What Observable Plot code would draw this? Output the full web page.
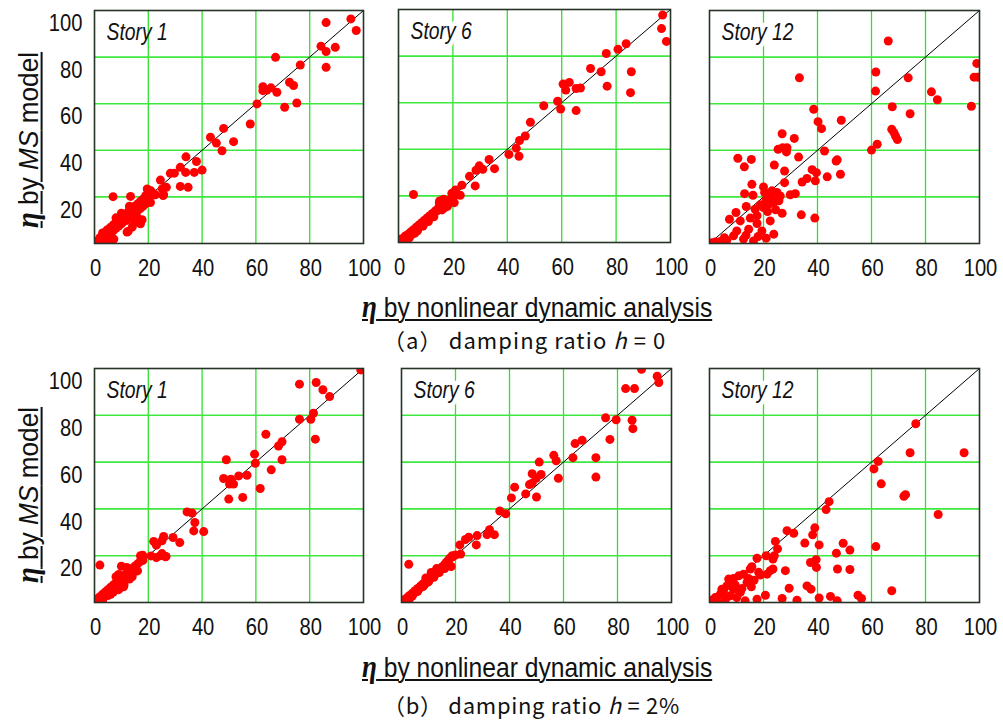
<!DOCTYPE html>
<html><head><meta charset="utf-8">
<script src="https://cdn.jsdelivr.net/npm/d3@7"></script>
<script src="https://cdn.jsdelivr.net/npm/@observablehq/plot@0.6"></script>
<style>
body{margin:0;background:#fff;}
#root{position:relative;width:1003px;height:720px;overflow:hidden;font-family:'Liberation Sans',Arial,sans-serif;color:#111;}
.t{position:absolute;white-space:nowrap;line-height:1;}
.xt{font-size:28px;text-decoration:underline;text-decoration-thickness:1.5px;text-underline-offset:2px;transform-origin:left top;}
.yt{font-size:28px;text-decoration:underline;text-decoration-thickness:1.5px;text-underline-offset:3px;}
.eta{font-family:'Liberation Serif','DejaVu Serif',serif;font-weight:bold;font-style:italic;font-size:1.1em;line-height:1;}
.cap{font-family:'Noto Sans CJK JP','Noto Sans',sans-serif;font-size:22px;}
</style>
</head><body><div id="root"></div>
<script>
// ---------- data ----------
const xTicks = [0, 20, 40, 60, 80, 100];
const yTicks = [20, 40, 60, 80, 100];
const gridTicks = [20, 40, 60, 80];
const diagonal = [0, 100];
const storyLabels = ["Story 1", "Story 6", "Story 12"];
const captions = ["（a） damping ratio ", "（b） damping ratio "];
const captionValues = ["= 0", "= 2%"];

// damping ratio h = 0, Story 1
const h0Story1 = [
[95.3,96.4],[86.1,94.8],[97.3,91.4],[84.2,84.7],[86.1,82.4],[89.5,84.2],[86.1,75.6],[76.5,76.6],[67.3,79.9],
[62.6,67.3],[62.6,65.6],[64.1,65.9],[65.6,66.8],[67.8,64.9],[72.5,69.2],[74.0,67.8],[70.7,58.5],[75.2,60.3],
[60.4,59.9],[57.9,51.3],[48.0,49.4],[43.1,45.6],[45.3,43.1],[47.4,39.8],[51.7,43.7],[34.0,37.2],[37.9,35.2],
[31.9,32.7],[33.9,30.5],[37.1,30.5],[40.0,31.5],[28.2,30.1],[29.7,30.2],[24.5,27.2],[31.9,24.5],[34.8,24.1],
[26.7,24.1],[25.7,20.9],[22.6,20.9],[19.6,23.4],[20.8,22.6],[20.8,17.6],[6.9,20.1],[13.4,20.2],[12.5,5.2],[7.2,1.9],
[1,1],[1.5,0.5],[2,2.5],[2.5,1.5],[3,3],[3,4.5],[3.5,2],[4,4],[4.5,5.5],[5,3.5],[5,6],[5.5,5],[6,7],[6,4.5],[6.5,6],
[7,8],[7,5.5],[7.5,7],[8,9],[8,6.5],[8.5,8],[9,10],[9,7.5],[9.5,9],[10,11],[10,8.5],[10.5,10],[11,12.5],[11,9.5],
[11.5,11],[12,13],[12,10],[12.5,12],[13,14.5],[13,11],[13.5,13],[14,15],[14,12],[14.5,14],[15,16],[15,13],[15.5,15],
[16,17],[16,14],[16.5,16],[17,18],[17,15],[17.5,17],[18,19],[18,16],[18.5,18],[19,20.5],[19,17],[20,21],[20,18.5],
[21,22.5],[22,21],[16,11],[15,9],[14,7],[6.5,2],[4,1],[10,13],[8,11],[13,16],[25.2,23.5],[22,21.3],[25.5,20.6],
[17.7,10.2],[17.1,8.5],[12.1,4.9],[6,2]
];

// damping ratio h = 0, Story 6
const h0Story6 = [
[97.1,97.6],[96.7,91.8],[98.5,86.3],[83.7,85.3],[80.7,82.9],[76.4,81.1],[70.6,74.7],[74.5,73.3],[85.6,73.3],
[76.7,67.1],[85.3,64.3],[60.5,68.0],[62.8,68.7],[61.5,65.4],[65.3,66.1],[66.9,66.3],[58.5,60.6],[59.6,57.3],
[65.3,56.6],[53.4,58.7],[48.5,51.6],[46.6,45.7],[44.5,43.8],[43.3,40.5],[44.3,37.0],[40.6,37.8],[33.3,35.6],
[35.3,31.7],[29.7,32.9],[31.0,31.4],[28.5,31.0],[26.1,28.4],[28.2,24.3],[23.3,24.6],[22.7,20.3],[20.9,22.5],
[19.6,21.1],[20.5,17.1],[16.6,18.6],[15.1,17.8],[5.5,20.6],
[0.5,0.5],[1,1.5],[1.5,0.8],[2,2],[2.5,2.8],[3,2.5],[3.5,3.5],[4,3.2],[4.5,4.5],[5,4.2],[5.5,5.5],[6,5.3],
[6.5,6.5],[7,6.2],[7.5,7.5],[8,7.3],[8.5,8.5],[9,8.2],[9.5,9.5],[10,9.5],[10.5,10.5],[11,10.2],[11.5,11.5],
[12,11.5],[12.5,12.5],[13,12.5],[13.5,13.5],[14,13.5],[14.5,14.5],[15,14.8],[16,15.5],[17,16.5],[18,17.5],
[3,1.5],[5,3.5],[7,5],[9,7],[11,9],[1,0.2],[2,0.5],[4,2],[6,4],[13,11],[16,14],[19,18.5],[20,19.5],[21,20.5],
[15,17],[16,18],[18,15.5],[17,15]
];

// damping ratio h = 0, Story 12
const h0Story12 = [
[66.2,86.9],[99.0,77.3],[98.0,71.4],[99.3,71.4],[33.3,71.1],[61.6,73.6],[73.6,71.1],[61.5,65.4],[82.2,65.1],
[84.4,61.7],[97.0,58.9],[67.7,58.7],[74.3,55.7],[67.5,49.0],[68.3,47.6],[68.9,46.1],[69.6,44.6],[62.1,42.6],
[60.0,40.1],[38.6,57.6],[40.2,52.3],[41.5,49.3],[48.8,52.9],[26.9,47.1],[31.4,45.1],[25.4,40.4],[27.1,41.1],
[28.7,41.1],[28.5,39.3],[33.0,37.1],[42.6,39.7],[10.5,36.6],[15.5,36.1],[12.9,32.9],[24.0,33.7],[27.8,31.1],
[38.0,31.7],[39.6,30.4],[46.9,35.4],[47.3,35.9],[48.5,29.7],[43.6,28.6],[39.2,26.9],[36.1,27.9],[34.3,26.4],
[15.7,25.4],[20.0,24.3],[27.8,26.1],[13.0,21.4],[16.1,20.7],[20.4,21.9],[23.1,22.6],[25.0,21.9],[26.2,20.4],
[29.9,20.9],[31.8,21.4],[21.0,18.7],[23.1,19.0],[25.7,18.3],[13.6,15.9],[16.9,14.7],[18.8,16.6],[21.5,13.7],
[22.5,9.7],[26.9,13.0],[34.0,12.3],[39.0,10.9],[9.8,13.3],[7.4,10.4],[15.1,10.9],[11.4,9.7],[17.6,8.6],[19.4,5.4],
[23.8,4.0],[21.0,2.3],[16.3,1.1],[12.6,1.9],[8.9,3.3],[6.4,1.4],[4.0,0.9],[2.1,0.6],[10.1,5.4],[14.5,6.1],
[17.6,11.9],[20.0,15.4],[21.9,16.9],[23.8,17.6],[22.5,19.7],[0.8,0.3],[5.5,2.5],[13.5,3.5],[18,3],[24.5,14.5]
];

// damping ratio h = 2%, Story 1
const h2Story1 = [
[99.0,99.4],[76.2,93.3],[82.4,94.0],[84.9,90.9],[87.4,88.0],[81.4,80.9],[80.4,78.3],[76.2,78.3],[82.1,69.8],
[63.7,71.9],[69.7,68.7],[68.4,66.9],[69.7,61.0],[65.7,56.7],[59.5,63.4],[59.8,59.5],[56.7,54.4],[53.6,54.1],
[50.7,52.7],[51.7,50.6],[50.2,50.6],[48.0,53.0],[49.0,61.0],[49.9,44.2],[55.1,44.9],[61.6,48.7],[34.4,38.7],
[36.3,38.2],[37.3,34.2],[36.9,30.6],[40.6,30.3],[31.7,25.6],[29.2,27.8],[25.7,28.2],[25.1,26.4],[22.0,26.1],
[23.0,24.5],[23.0,19.2],[21.0,19.9],[26.6,19.7],[25.1,20.9],[17.9,20.2],[2.0,16.0],
[0.5,0.5],[1,1.5],[1.5,1],[2,2.5],[2.5,1.5],[3,3.5],[3.5,2.5],[4,4.5],[4.5,3.5],[5,5.5],[5.5,4.5],[6,6.5],
[6.5,5.5],[7,7.5],[7.5,6.5],[8,8.5],[8.5,7.5],[9,9.5],[9.5,8.5],[10,10.5],[10.5,9.5],[11,11.5],[11.5,10],
[12,12.5],[12.5,11],[13,13.5],[13.5,12],[14,14.5],[14.5,13],[15,15.5],[15.5,14],[16,16.5],[17,17.5],[18,18],
[10,15.5],[9,12],[8,11],[12,15],[5,3],[7,4.5],[9,5.5],[10.8,6.7],[11,7.5],[3,1],[6,3.5],[14,11],[16,13.5],[13,10],
[17.1,20],[24.5,20],[26.4,19.5]
];

// damping ratio h = 2%, Story 6
const h2Story6 = [
[88.9,99.7],[94.7,96.7],[95.3,94.0],[83.0,91.4],[86.3,91.4],[75.6,78.9],[79.5,78.1],[85.4,77.9],[85.7,74.3],
[77.2,69.7],[64.3,67.9],[66.9,69.3],[56.4,62.9],[57.3,60.6],[63.5,61.9],[72.0,61.9],[72.0,53.6],[58.1,53.1],
[51.0,60.0],[48.4,55.0],[51.7,54.7],[49.9,53.1],[47.4,50.4],[48.4,51.0],[41.9,49.3],[40.7,44.7],[46.0,46.4],
[50.0,45.1],[36.4,39.1],[38.6,37.9],[32.6,31.1],[31.7,29.0],[34.4,29.0],[28.0,28.6],[24.9,27.9],[23.7,26.9],
[21.6,24.6],[27.7,24.6],[21.9,20.7],[18.8,20.0],[18.4,15.4],[2.7,16.3],
[0.5,0.3],[1,1.2],[1.5,0.6],[2,2],[2.5,1.8],[3,3],[3.5,2.6],[4,4],[4.5,3.8],[5,5],[5.5,4.6],[6,6],[6.5,5.8],
[7,7],[7.5,6.8],[8,8],[8.5,7.6],[9,9],[9.5,8.8],[10,10],[10.5,10],[11,11],[11.5,11],[12,12],[12.5,12.2],[13,13],
[13.5,13.3],[14,14],[14.5,14.3],[15,15.2],[15.5,15.5],[16,16.2],[16.5,17],[17,17.5],[17.5,18.3],[18,19],
[19,19.5],[20,20.3],[1,0.2],[2,0.8],[3,1.6],[4,2.8],[6,4.8],[8,6.8],[10,8.8],[12,10.8],[14,12.8],[13,14.5],
[11,12.8],[9,10.5],[16,14.5],[17,15.8]
];

// damping ratio h = 2%, Story 12
const h2Story12 = [
[76.4,76.4],[74.3,64.0],[94.3,64.0],[62.5,60.3],[60.9,57.1],[63.6,50.7],[72.6,46.1],[72.0,45.4],[84.7,37.6],
[44.3,43.1],[43.2,39.7],[61.6,23.9],[67.5,5.0],[39.0,31.9],[38.2,28.9],[35.3,25.4],[40.6,24.6],[28.7,30.7],
[31.2,29.6],[24.4,26.1],[25.2,22.9],[24.0,20.0],[23.5,18.6],[21.0,20.0],[17.6,18.9],[15.7,15.3],[22.5,13.6],
[23.5,14.3],[21.3,12.1],[18.8,11.7],[28.1,13.6],[37.4,17.1],[39.5,18.3],[39.6,15.0],[47.0,21.1],[49.5,25.3],
[52.0,22.4],[47.4,14.3],[52.0,14.1],[29.5,6.1],[36.1,7.1],[37.6,5.7],[40.6,1.9],[44.8,2.6],[47.3,0.7],[55.0,3.1],
[56.3,1.7],[32.4,1.0],[26.9,1.7],[20.7,3.1],[17.6,1.4],[15.5,6.7],[13.9,8.6],[14.4,10.3],[11.4,4.3],[8.9,5.7],
[7.4,8.6],[7.1,10.0],[8.9,10.3],[10.8,11.4],[12.6,12.1],[5.2,5.0],[4.0,3.6],[2.1,2.1],[0.9,1.0],[10.1,2.1],
[13.2,0.7],[18.2,12.9],[15.1,14.3],[6.4,7.1],[4.6,5.7],[7.7,2.9],[9.5,7.5],[12,6],[3,0.8],[6,1.5],[16.5,9.5]
];

// ---------- drawing ----------
const FONT = "'Liberation Sans',Arial,sans-serif";
const root = document.getElementById("root");

// emulate a narrow typeface by compressing glyphs horizontally
function narrowTexts(svg, f) {
  svg.querySelectorAll("text").forEach(t => {
    const len = t.getComputedTextLength();
    if (len > 0) {
      t.setAttribute("textLength", (len * f).toFixed(2));
      t.setAttribute("lengthAdjust", "spacingAndGlyphs");
    }
  });
}

function panel(pts, label, left, top, W, H, showY, halo) {
  const mL = showY ? 70 : 6, mT = 6, mR = 1003 - left - W > 30 ? 26 : 1003 - left - W, mB = 44;
  const marks = [
    Plot.gridX(gridTicks, {stroke: "#2fe02f", strokeOpacity: 1, strokeWidth: 1.3}),
    Plot.gridY(gridTicks, {stroke: "#3ee83e", strokeOpacity: 1, strokeWidth: 1.6}),
    Plot.line(diagonal, {x: d => d, y: d => d, stroke: "#000", strokeWidth: 1}),
    Plot.dot(pts, {x: d => d[0], y: d => d[1], r: 4.5, fill: "#ff0000", clip: true}),
    Plot.frame({stroke: "#263326", strokeWidth: 1.6}),
    Plot.axisX(xTicks, {tickSize: 0, tickPadding: 15, fontSize: 24, dx: 1, label: null, fill: "#111"}),
    Plot.text([label], {text: d => d, frameAnchor: "top-left", textAnchor: "start", lineAnchor: "middle",
      dx: 12, dy: 22, fontSize: 23, fontStyle: "italic", fill: "#111",
      stroke: halo ? "white" : null, strokeWidth: halo ? 10 : 0})
  ];
  if (showY) marks.push(Plot.axisY(yTicks, {tickSize: 0, tickPadding: 12, fontSize: 24, dy: 13, label: null, fill: "#111"}));
  const svg = Plot.plot({
    width: W + mL + mR, height: H + mT + mB,
    marginLeft: mL, marginTop: mT, marginRight: mR, marginBottom: mB,
    x: {domain: [0, 100], axis: null}, y: {domain: [0, 100], axis: null},
    style: {fontFamily: FONT, background: "transparent", overflow: "visible"},
    marks
  });
  svg.style.position = "absolute";
  svg.style.left = (left - mL) + "px";
  svg.style.top = (top - mT) + "px";
  root.appendChild(svg);
  narrowTexts(svg, 0.84);
}

panel(h0Story1, storyLabels[0], 94, 10, 269, 233, true, false);
panel(h0Story6, storyLabels[1], 398, 9, 272, 233, false, true);
panel(h0Story12, storyLabels[2], 709, 10, 270, 233, false, true);
panel(h2Story1, storyLabels[0], 94, 368, 269, 234, true, false);
panel(h2Story6, storyLabels[1], 401, 368, 270, 234, false, true);
panel(h2Story12, storyLabels[2], 709, 368, 270, 234, false, true);

function addText(cls, html, left, top) {
  const d = document.createElement("div");
  d.className = "t " + cls;
  d.innerHTML = html;
  d.style.left = left + "px";
  d.style.top = top + "px";
  root.appendChild(d);
  return d;
}
const yTitle = '<span class="eta">η</span> by <i>MS</i> model';
const xTitle = '<span class="eta">η</span> by nonlinear dynamic analysis';
function yTitleAt(cx, cy) {
  const d = addText("yt", yTitle, cx, cy);
  const s = 176 / d.offsetWidth;
  d.style.transform = `translate(-50%,-50%) rotate(-90deg) scaleX(${s})`;
}
function xTitleAt(x, y) {
  const d = addText("xt", xTitle, x, y);
  d.style.transform = `scaleX(${350 / d.offsetWidth})`;
}
function captionAt(i, x, y) {
  const d = addText("cap", captions[i] + '<i>h</i> ' + captionValues[i], x, y);
  const n = d.textContent.length;
  const target = i === 0 ? 283 : 297;
  const ls = Math.max(0, Math.min(1.8, (target - d.offsetWidth) / n));
  d.style.letterSpacing = ls + "px";
}
yTitleAt(28, 140);
yTitleAt(28, 495);
xTitleAt(362, 292);
xTitleAt(362, 652);
captionAt(0, 383, 328);
captionAt(1, 383, 693);
</script>
</body></html>
